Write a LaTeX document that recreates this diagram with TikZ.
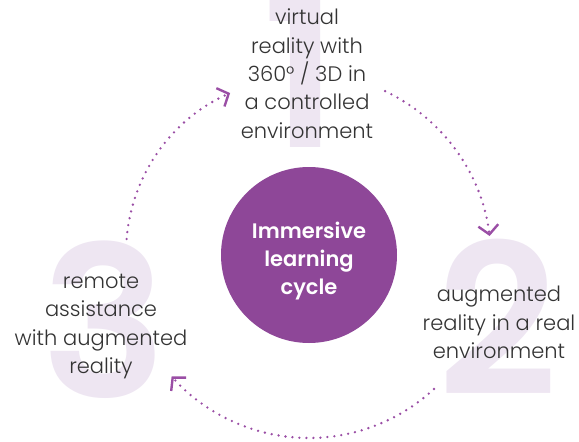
\documentclass[tikz,border=0pt]{standalone}
\usepackage{fontspec}
\setmainfont{Poppins}
\newfontfamily\lightfont{Poppins Light}
\newfontfamily\boldfont{Poppins SemiBold}
\usetikzlibrary{arrows.meta}
\definecolor{cyclepurple}{HTML}{8E4798}
\definecolor{dotpurple}{HTML}{9A4EA5}
\definecolor{bignum}{HTML}{EEE6F2}
\definecolor{textgrey}{HTML}{333333}
\tikzset{
  stagetext/.style={align=center, inner sep=0pt, text=textgrey,
    font=\lightfont\fontsize{21}{28.3}\selectfont},
  bigdigit/.style={inner sep=0pt, anchor=base, text=bignum,
    font=\boldfont\fontsize{210}{210}\selectfont},
  hub/.style={circle, fill=cyclepurple, minimum size=176pt, inner sep=0pt},
  hubtext/.style={align=center, inner sep=0pt, text=white,
    font=\boldfont\fontsize{21}{28}\selectfont},
  cyclearc/.style={draw=dotpurple, line width=2.6pt, line cap=round,
    dash pattern=on 0pt off 7pt,
    -{Straight Barb[length=9pt,width=20pt,line width=2.4pt]}}
}
\begin{document}
\begin{tikzpicture}[x=1pt,y=-1pt]
\useasboundingbox (0,0) rectangle (579,442);

% large stage numbers behind the labels
\node[bigdigit] (d1) at (301,147) {1};
\node[bigdigit] (d2) at (498,395) {2};
\node[bigdigit] (d3) at (104,397) {3};

% central hub
\node[hub] (hub) at (309,255) {};
\node[hubtext, anchor=north] (hubtxt) at (309,222)
  {Immersive\\learning\\cycle};

% stage labels
\node[stagetext, anchor=north] (t1) at (307,9)
  {virtual\\reality with\\360° / 3D in\\a controlled\\environment};
\node[stagetext, anchor=north] (t2) at (499,286)
  {augmented\\reality in a real\\environment};
\node[stagetext, anchor=north] (t3) at (101,274)
  {remote\\assistance\\with augmented\\reality};

% dotted arrows running round the cycle
\coordinate (a1s) at (385.1,91.1);
\coordinate (a2s) at (434,389);
\coordinate (a3s) at (126.6,239);
\draw[cyclearc] (a1s) arc[start angle=-64.5, end angle=-7.1, radius=186];
\draw[cyclearc] (a2s) arc[start angle=47.2, end angle=138.3, radius=184];
\draw[cyclearc] (a3s) arc[start angle=184.6, end angle=246.1, radius=175];
\end{tikzpicture}
\end{document}
